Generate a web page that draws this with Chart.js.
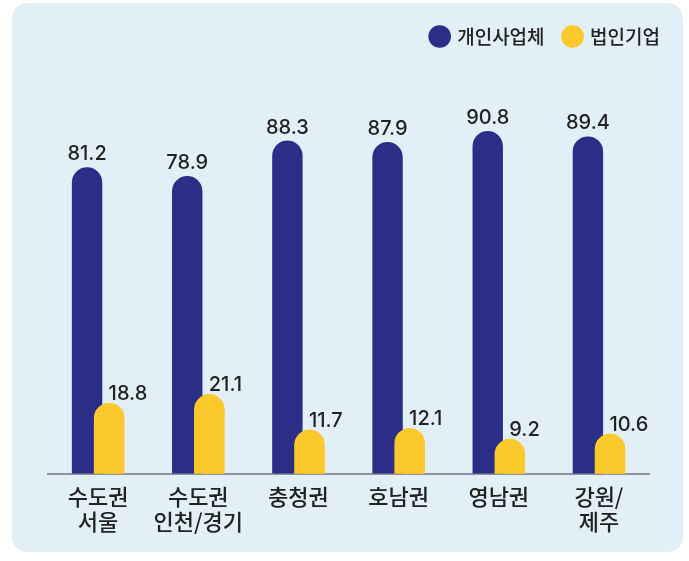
<!DOCTYPE html>
<html><head><meta charset="utf-8">
<script src="https://cdn.jsdelivr.net/npm/chart.js@4/dist/chart.umd.min.js"></script>
<style>
html,body{margin:0;padding:0;background:#fff;}
#wrap{position:relative;width:689px;height:561px;}
#panel{position:absolute;left:12px;top:3px;width:671px;height:549px;background:#e2eff6;border-radius:15px;}
#c{position:absolute;left:0;top:0;}
</style></head>
<body><div id="wrap"><div id="panel"></div><canvas id="c" width="689" height="561"></canvas></div>
<script>
const categories = [["수도권","서울"],["수도권","인천/경기"],["충청권"],["호남권"],["영남권"],["강원/","제주"]];
const seriesNames = ["개인사업체","법인기업"];
const individual = [81.2, 78.9, 88.3, 87.9, 90.8, 89.4];
const corporate = [18.8, 21.1, 11.7, 12.1, 9.2, 10.6];
const colors = ["#2b2e86", "#fcc92d"];
const NUMFONT = "Inter, 'Noto Sans CJK KR', sans-serif";
const KRFONT = "'Noto Sans CJK KR', sans-serif";

const valueLabels = {
  id: 'valueLabels',
  afterDatasetsDraw(chart) {
    // yellow series drawn on top of the blue one
    chart.getDatasetMeta(1).controller.draw();
    const ctx = chart.ctx;
    ctx.save();
    ctx.font = "500 20px " + NUMFONT;
    ctx.fillStyle = "#222222";
    ctx.textBaseline = "alphabetic";
    chart.data.datasets.forEach((ds, di) => {
      const meta = chart.getDatasetMeta(di);
      meta.data.forEach((bar, i) => {
        const txt = ds.data[i].toFixed(1);
        if (di === 0) {
          ctx.textAlign = "center";
          ctx.fillText(txt, bar.x, bar.y - 7);
        } else {
          ctx.textAlign = "left";
          ctx.fillText(txt, bar.x - 0.5, bar.y - 3);
        }
      });
    });
    ctx.restore();
  }
};

new Chart(document.getElementById('c'), {
  type: 'bar',
  data: {
    labels: categories,
    datasets: [
      { label: seriesNames[0], data: individual, backgroundColor: colors[0], borderRadius: 100, borderSkipped: 'bottom' },
      { label: seriesNames[1], data: corporate, backgroundColor: colors[1], borderRadius: 100, borderSkipped: 'bottom' }
    ]
  },
  options: {
    responsive: false,
    animation: false,
    devicePixelRatio: 1,
    categoryPercentage: 0.44,
    barPercentage: 1.38,
    layout: { padding: { left: 48, right: 9, top: 7, bottom: 17 } },
    plugins: {
      legend: {
        position: 'top',
        align: 'end',
        labels: {
          usePointStyle: true,
          pointStyle: 'circle',
          boxWidth: 16,
          boxHeight: 16,
          padding: 20,
          color: '#222222',
          font: { family: KRFONT, size: 19, weight: '500' }
        }
      },
      tooltip: { enabled: false }
    },
    scales: {
      x: {
        grid: { display: false, drawTicks: false },
        border: { display: true, color: '#8e949b', width: 2 },
        ticks: { color: '#222222', padding: 10, font: { family: KRFONT, size: 22, weight: '500', lineHeight: 1.14 } }
      },
      y: { display: false, min: 0, max: 110.7 },
      y2: {
        position: 'right', display: true,
        grid: { display: false, drawTicks: false },
        border: { display: false },
        ticks: { display: false },
        afterFit(s) { s.width = 31; }
      }
    }
  },
  plugins: [valueLabels]
});
</script>
</body></html>
